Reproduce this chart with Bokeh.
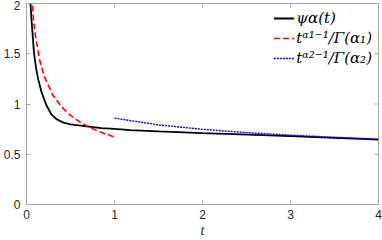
import math
from bokeh.plotting import figure
from bokeh.models import Range1d, FixedTicker, Legend, LegendItem
from bokeh.embed import file_html
from bokeh.resources import INLINE

# psi_alpha(t) (black solid)
t_psi = [0.045, 0.06, 0.086, 0.11, 0.135, 0.17, 0.22, 0.28, 0.34, 0.42, 0.5,
         0.66, 0.85, 1.0, 1.18, 1.5, 2.0, 2.43, 3.0, 3.5, 4.0]
psi = [2.0, 1.8, 1.5, 1.35, 1.24, 1.12, 1.0, 0.9, 0.85, 0.815, 0.797,
       0.78, 0.76, 0.753, 0.74, 0.727, 0.71, 0.697, 0.68, 0.663, 0.645]

# t^(alpha1-1)/Gamma(alpha1) (red dashed)
t_a1 = [0.06, 0.08, 0.1, 0.15, 0.2, 0.3, 0.4, 0.5, 0.6, 0.7, 0.8, 0.9, 1.0]
g_a1 = [2.069, 1.844, 1.687, 1.435, 1.279, 1.087, 0.969, 0.886, 0.824, 0.775, 0.734, 0.700, 0.672]

# t^(alpha2-1)/Gamma(alpha2) (blue dotted)
t_a2 = [1.0, 1.5, 2.0, 2.5, 3.0, 3.5, 4.0]
g_a2 = [0.859, 0.792, 0.748, 0.715, 0.690, 0.669, 0.651]

x_ticks = [0, 1, 2, 3, 4]
y_ticks = [0, 0.5, 1, 1.5, 2]
y_tick_labels = ["0", "0.5", "1", "1.5", "2"]
x_min, x_max = 0, 4
y_min, y_max = 0, 2

AX = "#a6a6a6"
TXT = "#262626"

p = figure(width=382, height=240, output_backend="svg", toolbar_location=None,
           x_range=Range1d(x_min, x_max), y_range=Range1d(y_min, y_max),
           min_border_left=0, min_border_right=4, min_border_top=3, min_border_bottom=0)
p.xgrid.visible = False
p.ygrid.visible = False
p.outline_line_color = AX
p.outline_line_width = 1

def style_axis(ax):
    ax.axis_line_color = AX
    ax.major_tick_line_color = AX
    ax.minor_tick_line_color = None
    ax.major_tick_in = 4
    ax.major_tick_out = 0
    ax.major_label_text_font = "Liberation Sans"
    ax.major_label_text_font_size = "12px"
    ax.major_label_text_color = TXT

xa = p.xaxis[0]
xa.ticker = FixedTicker(ticks=x_ticks)
style_axis(xa)
xa.major_label_standoff = 5
xa.axis_label = "t"
xa.axis_label_text_font = "Liberation Serif"
xa.axis_label_text_font_style = "italic"
xa.axis_label_text_font_size = "14px"
xa.axis_label_text_color = TXT
xa.axis_label_standoff = 1

ya = p.yaxis[0]
ya.ticker = FixedTicker(ticks=y_ticks)
ya.major_label_overrides = {v: s for v, s in zip(y_ticks, y_tick_labels)}
style_axis(ya)
ya.major_label_standoff = 6

# inward ticks on the top and right edges of the box (clipped to the frame)
p.scatter(x_ticks, [y_max] * len(x_ticks), marker="dash", size=8, angle=math.pi / 2,
          line_color=AX, line_width=1)
p.scatter([x_max] * len(y_ticks), y_ticks, marker="dash", size=8,
          line_color=AX, line_width=1)

r1 = p.line(t_psi, psi, line_color="black", line_width=1.8)
r2 = p.line(t_a1, g_a1, line_color="#ff0000", line_width=1.6, line_dash="6 3")
r3 = p.line(t_a2, g_a2, line_color="#0000ff", line_width=1.4, line_dash="2 1")

legend = Legend(items=[
    LegendItem(label="ψα(t)", renderers=[r1]),
    LegendItem(label="tᵅ¹⁻¹/Γ(α₁)", renderers=[r2]),
    LegendItem(label="tᵅ²⁻¹/Γ(α₂)", renderers=[r3]),
], location="top_right")
legend.border_line_color = None
legend.background_fill_alpha = 0
legend.label_text_font = "DejaVu Serif"
legend.label_text_font_style = "italic"
legend.label_text_font_size = "15px"
legend.label_text_color = "black"
legend.label_height = 16
legend.glyph_height = 16
legend.glyph_width = 21
legend.label_standoff = 2
legend.spacing = 2
legend.padding = 5
legend.margin = 6
p.add_layout(legend)

open("out.html", "w").write(file_html(p, INLINE))
